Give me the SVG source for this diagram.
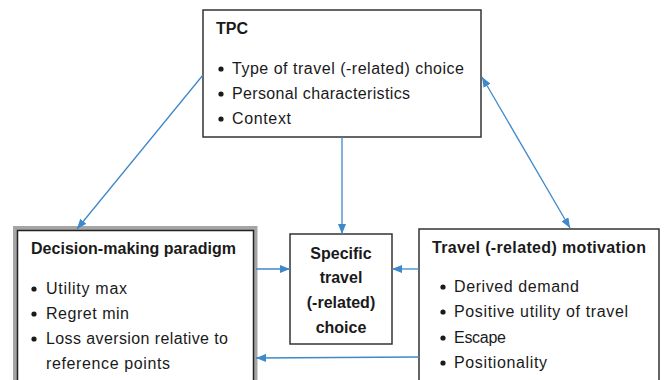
<svg xmlns="http://www.w3.org/2000/svg" width="667" height="380" viewBox="0 0 667 380">
<style>
.box{fill:#fff;stroke:#333;stroke-width:1.5}
.t{font-family:"Liberation Sans",Arial,sans-serif;font-size:16px;fill:#1a1a1a}
.b{font-weight:bold}
.dot{fill:#1a1a1a}
.c{fill:none;stroke:#3f88c9;stroke-width:1.3}
</style>
<defs>
<marker id="ah" viewBox="0 0 10 8" refX="10" refY="4" markerWidth="10" markerHeight="8" markerUnits="userSpaceOnUse" orient="auto-start-reverse">
<path d="M0,0 L10,4 L0,8 z" fill="#3f88c9"/>
</marker>
</defs>
<rect width="667" height="380" fill="#fff"/>
<g id="tpc">
<rect class="box" x="203" y="10" width="278" height="127"/>
<text class="t b" x="216" y="34">TPC</text>
<circle class="dot" cx="221" cy="69" r="2.6"/>
<circle class="dot" cx="221" cy="94" r="2.6"/>
<circle class="dot" cx="221" cy="119" r="2.6"/>
<text class="t" x="232" y="74" textLength="232">Type of travel (-related) choice</text>
<text class="t" x="232" y="99" textLength="178">Personal characteristics</text>
<text class="t" x="232" y="124" textLength="59">Context</text>
</g>
<g id="decision">
<rect x="15" y="228" width="240.5" height="160" fill="none" stroke="#a5a5a5" stroke-width="4"/>
<rect x="17.5" y="230.5" width="236" height="160" fill="#fff" stroke="#222" stroke-width="1.5"/>
<text class="t b" x="31" y="254" textLength="205">Decision-making paradigm</text>
<circle class="dot" cx="34" cy="289" r="2.6"/>
<circle class="dot" cx="34" cy="314" r="2.6"/>
<circle class="dot" cx="34" cy="339" r="2.6"/>
<text class="t" x="46" y="294" textLength="81">Utility max</text>
<text class="t" x="46" y="319" textLength="83">Regret min</text>
<text class="t" x="46" y="344" textLength="182">Loss aversion relative to</text>
<text class="t" x="46" y="369" textLength="124">reference points</text>
</g>
<g id="specific">
<rect class="box" x="290" y="234" width="102" height="110"/>
<text class="t b" x="341" y="259" text-anchor="middle">Specific</text>
<text class="t b" x="341" y="283" text-anchor="middle">travel</text>
<text class="t b" x="341" y="308" text-anchor="middle">(-related)</text>
<text class="t b" x="341" y="333" text-anchor="middle">choice</text>
</g>
<g id="motivation">
<rect class="box" x="419" y="229" width="240" height="160"/>
<text class="t b" x="432" y="253" textLength="214">Travel (-related) motivation</text>
<circle class="dot" cx="443" cy="287" r="2.6"/>
<circle class="dot" cx="443" cy="312" r="2.6"/>
<circle class="dot" cx="443" cy="338" r="2.6"/>
<circle class="dot" cx="443" cy="363" r="2.6"/>
<text class="t" x="454" y="292" textLength="125">Derived demand</text>
<text class="t" x="454" y="317" textLength="174">Positive utility of travel</text>
<text class="t" x="454" y="343" textLength="52">Escape</text>
<text class="t" x="454" y="368" textLength="93">Positionality</text>
</g>
<g id="connectors">
<line class="c" x1="203" y1="75" x2="77" y2="229" marker-end="url(#ah)"/>
<line class="c" x1="342" y1="137" x2="342" y2="234" marker-end="url(#ah)"/>
<line class="c" x1="482" y1="77" x2="570" y2="228" marker-start="url(#ah)" marker-end="url(#ah)"/>
<line class="c" x1="256" y1="269" x2="290" y2="269" marker-end="url(#ah)"/>
<line class="c" x1="419" y1="269" x2="392" y2="269" marker-end="url(#ah)"/>
<line class="c" x1="419" y1="357" x2="256" y2="358" marker-end="url(#ah)"/>
</g>
</svg>
